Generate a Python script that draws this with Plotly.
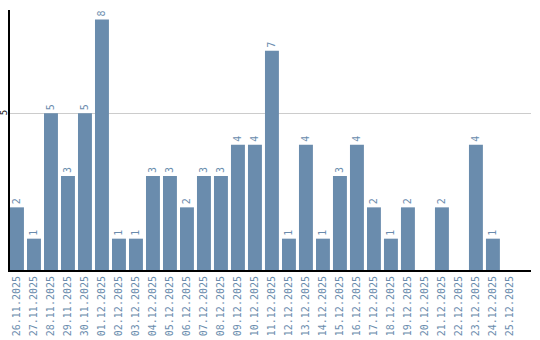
import plotly.graph_objects as go

dates = ["26.11.2025", "27.11.2025", "28.11.2025", "29.11.2025", "30.11.2025",
         "01.12.2025", "02.12.2025", "03.12.2025", "04.12.2025", "05.12.2025",
         "06.12.2025", "07.12.2025", "08.12.2025", "09.12.2025", "10.12.2025",
         "11.12.2025", "12.12.2025", "13.12.2025", "14.12.2025", "15.12.2025",
         "16.12.2025", "17.12.2025", "18.12.2025", "19.12.2025", "20.12.2025",
         "21.12.2025", "22.12.2025", "23.12.2025", "24.12.2025", "25.12.2025"]
counts = [2, 1, 5, 3, 5, 8, 1, 1, 3, 3, 2, 3, 3, 4, 4, 7, 1, 4, 1, 3, 4, 2, 1, 2, 0, 2, 0, 4, 1, 0]
y_ticks = [5]

bar_color = "#6a8cad"
labels = [str(v) if v > 0 else "" for v in counts]

fig = go.Figure(go.Bar(
    x=dates, y=counts, marker_color=bar_color, marker_line_width=0,
    text=labels, textposition="outside", textangle=-90,
    textfont=dict(family="DejaVu Sans Mono", size=10, color=bar_color),
    cliponaxis=False,
))

fig.update_layout(
    width=540, height=340,
    margin=dict(l=10, r=9, t=10, b=70),
    paper_bgcolor="white", plot_bgcolor="white",
    bargap=0.18, showlegend=False,
)
fig.update_xaxes(
    type="category", range=[-0.41, 30.24], automargin=False,
    tickangle=-90, tickfont=dict(family="DejaVu Sans Mono", size=10, color=bar_color),
    showline=True, linecolor="black", linewidth=2, showgrid=False, ticks="",
)
fig.update_yaxes(
    range=[0, 8.3], tickvals=y_ticks, showticklabels=False, automargin=False,
    showline=True, linecolor="black", linewidth=2,
    showgrid=True, gridcolor="#cccccc", gridwidth=1, zeroline=False, ticks="",
)
for t in y_ticks:
    fig.add_annotation(
        x=0, xref="paper", y=t, yref="y", text=str(t), showarrow=False,
        textangle=-90, xanchor="center", yanchor="middle", xshift=-6,
        font=dict(family="DejaVu Sans Mono", size=9, color="black"),
    )

fig.write_html("out.html")
